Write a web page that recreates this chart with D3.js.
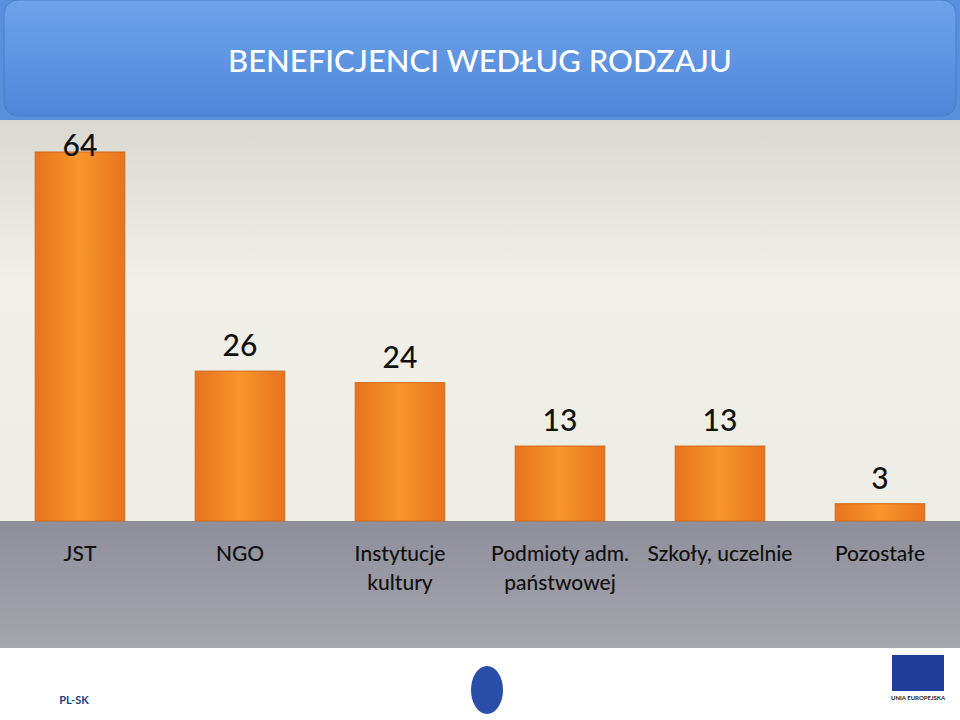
<!DOCTYPE html>
<html><head><meta charset="utf-8">
<script src="https://cdn.jsdelivr.net/npm/d3@7"></script>
<style>body{margin:0;background:#fff}</style>
</head><body>
<script>
const categories = [["JST"], ["NGO"], ["Instytucje", "kultury"], ["Podmioty adm.", "państwowej"], ["Szkoły, uczelnie"], ["Pozostałe"]];
const values = [64, 26, 24, 13, 13, 3];
const title = "BENEFICJENCI WEDŁUG RODZAJU";

const W = 960, H = 720, base = 521;
const svg = d3.select("body").append("svg").attr("width", W).attr("height", H)
  .attr("font-family", "Lato, 'Open Sans', sans-serif");
const defs = svg.append("defs");

let g1 = defs.append("linearGradient").attr("id", "bg").attr("x1", 0).attr("y1", 0).attr("x2", 0).attr("y2", 1);
g1.append("stop").attr("offset", 0).attr("stop-color", "#d9d9d2");
g1.append("stop").attr("offset", 0.4).attr("stop-color", "#f0efe8");
g1.append("stop").attr("offset", 1).attr("stop-color", "#efeee6");
let g2 = defs.append("linearGradient").attr("id", "band").attr("x1", 0).attr("y1", 0).attr("x2", 0).attr("y2", 1);
g2.append("stop").attr("offset", 0).attr("stop-color", "#8f8f9c");
g2.append("stop").attr("offset", 1).attr("stop-color", "#a5a5ad");
let g3 = defs.append("linearGradient").attr("id", "bar").attr("x1", 0).attr("y1", 0).attr("x2", 1).attr("y2", 0);
g3.append("stop").attr("offset", 0).attr("stop-color", "#e8731e");
g3.append("stop").attr("offset", 0.5).attr("stop-color", "#f8962b");
g3.append("stop").attr("offset", 1).attr("stop-color", "#e8731e");
let g4 = defs.append("linearGradient").attr("id", "ttl").attr("x1", 0).attr("y1", 0).attr("x2", 0).attr("y2", 1);
g4.append("stop").attr("offset", 0).attr("stop-color", "#6ea3ea");
g4.append("stop").attr("offset", 1).attr("stop-color", "#4f86d8");

svg.append("rect").attr("y", 0).attr("width", W).attr("height", 120).attr("fill", "#5a8fdc");
svg.append("rect").attr("x", 4).attr("y", 0).attr("width", W - 8).attr("height", 116).attr("rx", 14)
  .attr("fill", "url(#ttl)").attr("stroke", "#4a7cc8");
svg.append("rect").attr("y", 120).attr("width", W).attr("height", base - 120).attr("fill", "url(#bg)");
svg.append("rect").attr("y", base).attr("width", W).attr("height", 648 - base).attr("fill", "url(#band)");

svg.append("text").attr("x", 480).attr("y", 72).attr("text-anchor", "middle")
  .attr("fill", "#fff").attr("font-size", 31).attr("font-weight", 500).text(title);

const x = d3.scaleBand().domain(d3.range(values.length)).range([0, W]).paddingInner(0.44).paddingOuter(0.22);
const y = d3.scaleLinear().domain([0, 64]).range([base, 152]);

svg.selectAll("rect.b").data(values).join("rect").attr("class", "b")
  .attr("x", (d, i) => x(i)).attr("width", x.bandwidth())
  .attr("y", d => y(d)).attr("height", d => base - y(d))
  .attr("fill", "url(#bar)").attr("stroke", "#d0681a").attr("stroke-width", 1);

svg.selectAll("text.v").data(values).join("text").attr("class", "v")
  .attr("x", (d, i) => x(i) + x.bandwidth() / 2)
  .attr("y", d => Math.max(y(d) - 15, 156))
  .attr("text-anchor", "middle").attr("font-size", 30).attr("font-weight", 500)
  .attr("fill", "#111").text(d => d);

const lab = svg.selectAll("text.c").data(categories).join("text").attr("class", "c")
  .attr("text-anchor", "middle").attr("font-size", 21).attr("font-weight", 500).attr("fill", "#111");
lab.each(function(d, i) {
  const cx = x(i) + x.bandwidth() / 2;
  d3.select(this).selectAll("tspan").data(d).join("tspan")
    .attr("x", cx).attr("y", (t, j) => 561 + j * 29).text(t => t);
});

// footer logos (simplified)
svg.append("text").attr("x", 74).attr("y", 704).attr("text-anchor", "middle").attr("font-size", 11)
  .attr("font-weight", "bold").attr("fill", "#1a3d8f").text("PL-SK");
svg.append("ellipse").attr("cx", 487).attr("cy", 690).attr("rx", 16).attr("ry", 24).attr("fill", "#2a4fa8");
svg.append("rect").attr("x", 892).attr("y", 655).attr("width", 52).attr("height", 36).attr("fill", "#1f3f9a");
svg.append("text").attr("x", 918).attr("y", 700).attr("text-anchor", "middle").attr("font-size", 6)
  .attr("font-weight", "bold").attr("fill", "#222").text("UNIA EUROPEJSKA");
</script>
</body></html>
